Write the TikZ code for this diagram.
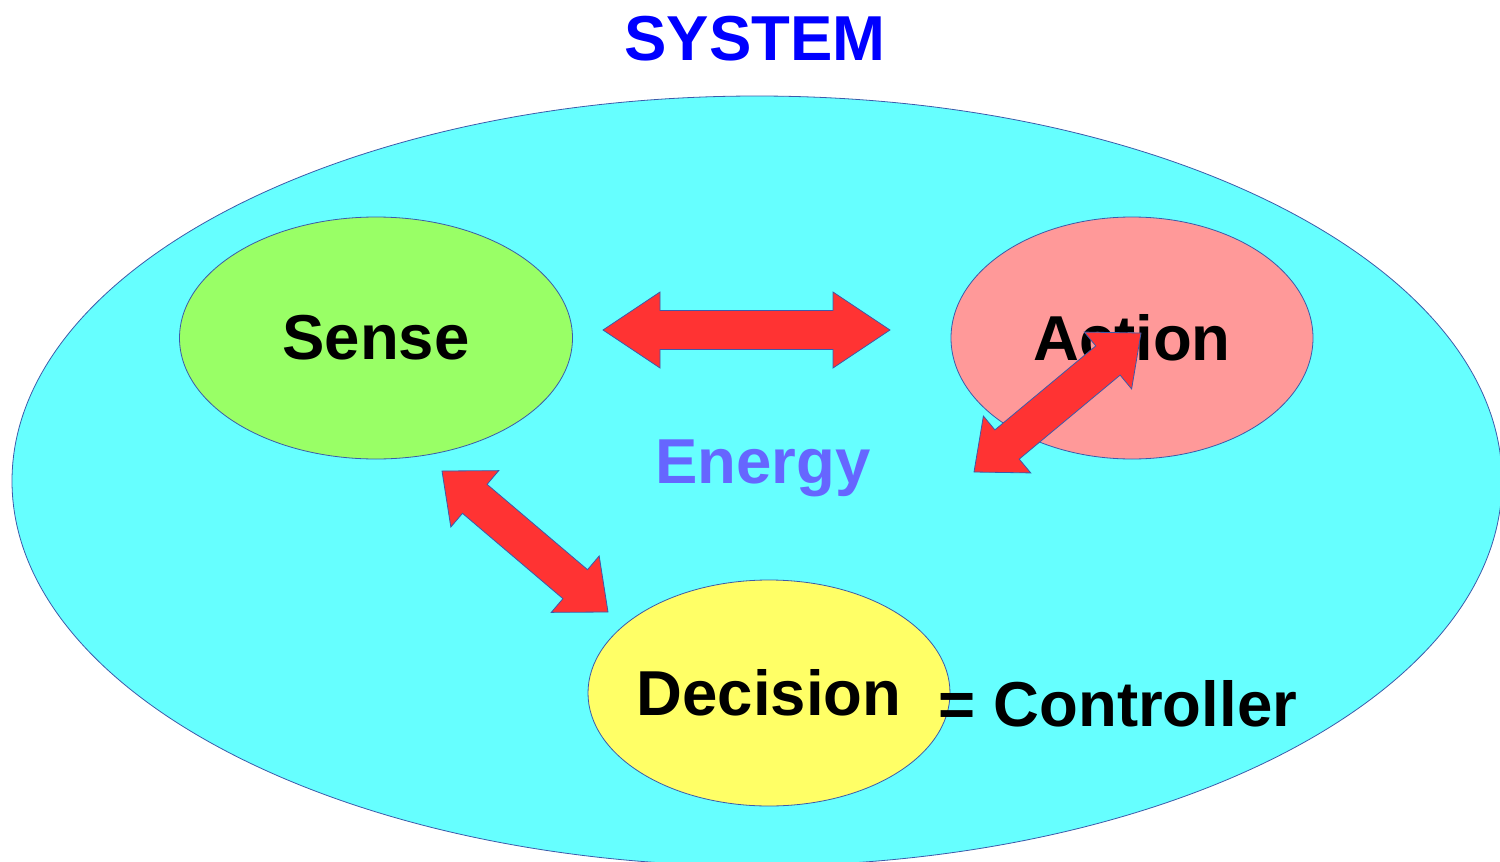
\documentclass[tikz,border=0pt]{standalone}
\usepackage{fontspec}
\setmainfont{Liberation Sans}
\usetikzlibrary{shapes.geometric,calc}
\definecolor{sysblue}{RGB}{0,0,255}
\definecolor{cyanfill}{RGB}{102,255,255}
\definecolor{sensefill}{RGB}{153,255,102}
\definecolor{actionfill}{RGB}{255,153,153}
\definecolor{decisionfill}{RGB}{255,255,102}
\definecolor{arrowred}{RGB}{255,51,51}
\definecolor{edgeblue}{RGB}{60,90,170}
\definecolor{energyblue}{RGB}{102,102,255}
\newcommand\dblarrow[5]{%
  \coordinate (ha) at ($(#1)!#3!(#2)$);
  \coordinate (hb) at ($(#2)!#3!(#1)$);
  \draw[blockarrow] (#1) -- ($(ha)!#4!90:(#2)$) -- ($(ha)!#5!90:(#2)$)
    -- ($(hb)!#5!-90:(#1)$) -- ($(hb)!#4!-90:(#1)$) -- (#2)
    -- ($(hb)!#4!90:(#1)$) -- ($(hb)!#5!90:(#1)$)
    -- ($(ha)!#5!-90:(#2)$) -- ($(ha)!#4!-90:(#2)$) -- cycle;}
\begin{document}
\begin{tikzpicture}[x=1pt,y=-1pt,
  bubble/.style={ellipse, draw=edgeblue, line width=0.8pt, inner sep=0pt, outer sep=0pt},
  bigtext/.style={font=\fontsize{63.5}{70}\selectfont\bfseries, inner sep=0pt},
  blockarrow/.style={fill=arrowred, draw=edgeblue, line width=0.8pt, line join=miter}]
\useasboundingbox (0,0) rectangle (1500,862);
\clip (0,0) rectangle (1500,862);
\node[bubble, fill=cyanfill, minimum width=1490pt, minimum height=770pt] (system) at (757,481) {};
\node[bubble, fill=sensefill, minimum width=393pt, minimum height=242pt] (sense) at (376,338) {};
\node[bubble, fill=actionfill, minimum width=362pt, minimum height=242pt] (action) at (1132,338) {};
\node[bubble, fill=decisionfill, minimum width=362pt, minimum height=226pt] (decision) at (769,693) {};
\node[bigtext] (sensetext) at (sense) {Sense};
\node[bigtext] (actiontext) at (action) {Action};
\node[bigtext] (decisiontext) at (decision) {Decision};
\coordinate (h1) at (603,330);
\coordinate (h2) at (890,330);
\coordinate (d1) at (442,471);
\coordinate (d2) at (608,612);
\coordinate (a1) at (1141,333);
\coordinate (a2) at (974,472);
\dblarrow{h1}{h2}{57pt}{38pt}{19.5pt}
\dblarrow{d1}{d2}{43pt}{37pt}{19pt}
\dblarrow{a1}{a2}{43pt}{37pt}{19pt}
\node[bigtext, text=energyblue, anchor=base] (energy) at (763,483) {Energy};
\node[bigtext, anchor=base] (controller) at (1118,726) {= Controller};
\node[bigtext, text=sysblue, anchor=base] (title) at (755,60) {SYSTEM};
\end{tikzpicture}
\end{document}
